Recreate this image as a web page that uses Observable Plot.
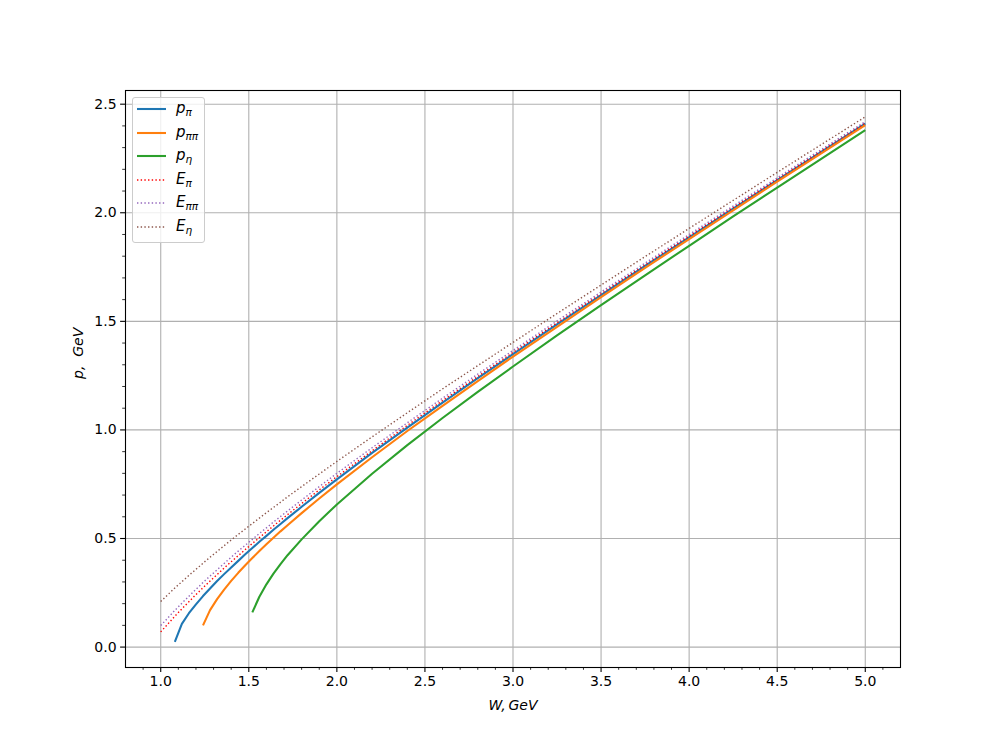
<!DOCTYPE html>
<html>
<head>
<meta charset="utf-8">
<script src="https://cdn.jsdelivr.net/npm/d3@7"></script>
<script src="https://cdn.jsdelivr.net/npm/@observablehq/plot@0.6"></script>
<style>
  body { margin: 0; background: #fff; font-family: "DejaVu Sans", sans-serif; }
  #wrap { position: relative; width: 1000px; height: 750px; }
  #legend { position: absolute; left: 132px; top: 97px; width: 73px; height: 146px;
    border: 1px solid #cccccc; border-radius: 3px; background: rgba(255,255,255,0.8); box-sizing: border-box; }
  .row { position: absolute; left: 0; height: 20px; }
  .row svg { position: absolute; left: 4px; top: 0; }
  .row .lab { position: absolute; left: 43px; top: -1px; font-size: 15px; line-height: 20px; font-style: italic; white-space: nowrap; color: #000; }
  .row .lab sub { font-size: 10.5px; vertical-align: -3px; line-height: 0; }
</style>
</head>
<body>
<div id="wrap"><div id="chart"></div><div id="legend"></div></div>
<script>
// W grid (GeV)
const W = [1.00,1.04,1.08,1.12,1.16,1.20,1.24,1.28,1.32,1.36,1.40,1.44,1.48,1.52,1.56,1.60,1.64,1.68,1.72,1.80,1.90,2.00,2.20,2.40,2.60,2.80,3.00,3.25,3.50,3.75,4.00,4.25,4.50,4.75,5.00];
// momenta
const pPi = [null,null,0.024,0.107,0.156,0.197,0.235,0.270,0.304,0.336,0.367,0.397,0.427,0.456,0.485,0.512,0.540,0.567,0.594,0.646,0.710,0.772,0.894,1.011,1.126,1.239,1.349,1.486,1.621,1.755,1.887,2.019,2.150,2.280,2.410];
const pPiPi = [null,null,null,null,null,null,0.100,0.170,0.221,0.265,0.305,0.342,0.377,0.410,0.442,0.473,0.503,0.533,0.561,0.617,0.684,0.749,0.874,0.995,1.111,1.225,1.338,1.475,1.611,1.746,1.879,2.011,2.143,2.274,2.404];
const pEta = [null,null,null,null,null,null,null,null,null,null,null,null,null,0.160,0.232,0.289,0.338,0.382,0.423,0.496,0.579,0.657,0.798,0.930,1.055,1.175,1.292,1.435,1.575,1.712,1.848,1.983,2.116,2.248,2.380];
// energies
const ePi = [0.070,0.106,0.142,0.176,0.209,0.242,0.273,0.304,0.334,0.364,0.393,0.421,0.449,0.477,0.504,0.531,0.558,0.584,0.610,0.661,0.724,0.785,0.904,1.021,1.135,1.246,1.357,1.493,1.627,1.760,1.892,2.024,2.154,2.284,2.414];
const ePiPi = [0.099,0.134,0.169,0.202,0.234,0.266,0.297,0.327,0.356,0.385,0.414,0.442,0.469,0.496,0.523,0.549,0.576,0.601,0.627,0.677,0.739,0.800,0.918,1.033,1.146,1.257,1.366,1.502,1.635,1.768,1.900,2.031,2.161,2.291,2.420];
const eEta = [0.210,0.241,0.272,0.301,0.330,0.358,0.386,0.414,0.440,0.467,0.493,0.519,0.544,0.569,0.594,0.619,0.643,0.667,0.692,0.739,0.797,0.855,0.968,1.079,1.189,1.296,1.403,1.536,1.667,1.798,1.928,2.057,2.186,2.314,2.442];

const xTicks = [1.0,1.5,2.0,2.5,3.0,3.5,4.0,4.5,5.0];
const yTicks = [0.0,0.5,1.0,1.5,2.0,2.5];

const series = [
  {key: "pPi", vals: pPi, color: "#1f77b4", dotted: false, name: "p", sub: "π"},
  {key: "pPiPi", vals: pPiPi, color: "#ff7f0e", dotted: false, name: "p", sub: "ππ"},
  {key: "pEta", vals: pEta, color: "#2ca02c", dotted: false, name: "p", sub: "η"},
  {key: "ePi", vals: ePi, color: "#ff0000", dotted: true, name: "E", sub: "π"},
  {key: "ePiPi", vals: ePiPi, color: "#9467bd", dotted: true, name: "E", sub: "ππ"},
  {key: "eEta", vals: eEta, color: "#8c564b", dotted: true, name: "E", sub: "η"}
];

const minorX = d3.range(9, 52).map(d => d / 10).filter(v => Math.abs(v * 2 - Math.round(v * 2)) > 1e-6);
const minorY = d3.range(1, 25).map(d => d / 10).filter(v => Math.abs(v * 2 - Math.round(v * 2)) > 1e-6);

const marks = [
  Plot.gridX(xTicks, {stroke: "#b0b0b0", strokeOpacity: 1, strokeWidth: 1.1}),
  Plot.gridY(yTicks, {stroke: "#b0b0b0", strokeOpacity: 1, strokeWidth: 1.1}),
];
for (const s of series) {
  const rows = W.map((w, i) => ({W: w, v: s.vals[i]})).filter(d => d.v != null);
  marks.push(Plot.line(rows, {
    x: "W", y: "v", stroke: s.color,
    strokeWidth: s.dotted ? 1.39 : 2.08,
    strokeDasharray: s.dotted ? "1.39,2.29" : null,
    strokeLinecap: "butt", curve: "linear"
  }));
}
marks.push(
  Plot.frame({stroke: "black", strokeWidth: 1.1}),
  Plot.axisX(xTicks, {tickSize: 4.9, tickPadding: 4, tickFormat: d3.format(".1f"), fontSize: 14, strokeWidth: 1.1, label: null}),
  Plot.axisX(minorX, {tickSize: 2.8, tickFormat: () => "", strokeWidth: 0.8, label: null}),
  Plot.axisY(yTicks, {tickSize: 4.9, tickPadding: 4, tickFormat: d3.format(".1f"), fontSize: 14, strokeWidth: 1.1, label: null}),
  Plot.axisY(minorY, {tickSize: 2.8, tickFormat: () => "", strokeWidth: 0.8, label: null}),
  Plot.text([0], {frameAnchor: "bottom", dy: 42, text: () => "W,\u2009GeV", fontStyle: "italic", fontSize: 14, fill: "black"}),
  Plot.text([0], {frameAnchor: "left", dx: -47, rotate: -90, text: () => "p,  GeV", fontStyle: "italic", fontSize: 14, fill: "black"})
);

const chart = Plot.plot({
  width: 1000, height: 750,
  marginLeft: 125, marginRight: 100, marginTop: 90, marginBottom: 83,
  x: {domain: [0.8, 5.2]},
  y: {domain: [-0.094, 2.563]},
  style: {fontFamily: "DejaVu Sans", fontSize: "14px", color: "black", background: "white"},
  marks
});
document.getElementById("chart").appendChild(chart);

const legend = document.getElementById("legend");
const rowTops = [0, 23.5, 47, 70.5, 94, 117.5];
series.forEach((s, i) => {
  const row = document.createElement("div");
  row.className = "row";
  row.style.top = (rowTops[i] + 1) + "px";
  row.innerHTML = `<svg width="30" height="20"><line x1="0" x2="29" y1="10" y2="10" stroke="${s.color}" stroke-width="${s.dotted ? 1.39 : 2.08}" ${s.dotted ? 'stroke-dasharray="1.39,2.29"' : ''}/></svg><span class="lab">${s.name}<sub>${s.sub}</sub></span>`;
  legend.appendChild(row);
});
</script>
</body>
</html>
